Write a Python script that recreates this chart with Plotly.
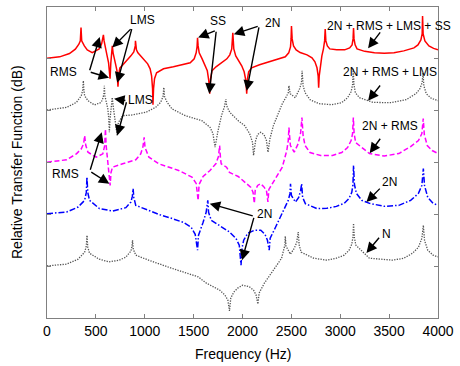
import plotly.graph_objects as go

# Measured transfer functions: (frequency in Hz, relative level in dB)
# Each trace carries its own vertical offset so the five cases stack.
full_model = [  # 2N + RMS + LMS + SS
    (0, -57.3), (130, -56), (230, -52.7), (290, -48.3), (326, -43.3), (341, -40), (348, -26.7),
    (355, -40), (382, -45), (412, -49), (463, -51.7), (534, -48), (559, -43), (572, -38), (577, -34),
    (584, -40), (595, -47), (615, -55), (630, -62), (640, -70), (645, -78), (653, -62), (660, -55),
    (665, -50), (668, -45), (676, -52), (686, -58), (701, -63), (716, -70), (723, -78), (726, -86),
    (736, -72), (746, -67), (777, -64), (817, -60), (858, -55), (888, -51), (898, -48), (903, -45),
    (905, -40), (908, -45), (915, -49), (930, -52), (970, -56), (1000, -59), (1030, -63), (1055, -68),
    (1070, -75), (1080, -88), (1084, -104), (1090, -88), (1100, -78), (1121, -72), (1192, -68),
    (1293, -66), (1395, -64), (1465, -62), (1506, -58), (1526, -52), (1535, -46), (1540, -37),
    (1546, -45), (1557, -52), (1587, -58), (1617, -64), (1640, -70), (1655, -80), (1665, -93),
    (1673, -78), (1688, -70), (1729, -66), (1789, -62), (1840, -58), (1870, -54), (1890, -48),
    (1901, -32), (1911, -48), (1931, -55), (1962, -60), (1992, -65), (2017, -71), (2035, -80),
    (2043, -93), (2051, -78), (2063, -71), (2093, -67), (2174, -64), (2276, -61), (2377, -58),
    (2438, -56), (2473, -52), (2491, -46), (2497, -38), (2501, -25), (2508, -38), (2522, -45),
    (2549, -49), (2590, -51.7), (2660, -54), (2711, -57), (2741, -61), (2762, -67), (2774, -75),
    (2779, -87), (2785, -75), (2797, -65), (2812, -55), (2828, -48), (2840, -40), (2846, -28),
    (2853, -40), (2868, -45), (2893, -48), (2964, -49), (3045, -49), (3096, -47), (3121, -44),
    (3131, -38), (3136, -27), (3141, -38), (3152, -44), (3172, -48), (3250, -50.5), (3350, -52),
    (3450, -52.5), (3550, -52), (3650, -50), (3754, -47), (3795, -44), (3825, -39), (3838, -33),
    (3842, -15), (3848, -33), (3866, -40), (3907, -45), (3955, -47.5), (4000, -49),
]

no_ss = [  # 2N + RMS + LMS
    (0, -109.3), (200, -106.7), (301, -101.7), (331, -98), (351, -95), (364, -90), (372, -80),
    (378, -90), (385, -95), (419, -100), (486, -104.3), (554, -101.7), (574, -97), (582, -93),
    (587, -85), (592, -95), (605, -102), (622, -108), (632, -118), (638, -131.7), (645, -118),
    (655, -108), (663, -102), (668, -96.7), (676, -105), (690, -115), (705, -124), (712, -130),
    (718, -135), (730, -122), (774, -115), (875, -114.3), (1010, -111.7), (1111, -106.7),
    (1162, -101.7), (1187, -96), (1195, -86.7), (1203, -96), (1229, -101.7), (1280, -108.3),
    (1415, -115), (1584, -120), (1668, -126.7), (1698, -133), (1719, -146.7), (1750, -130),
    (1785, -115), (1815, -106), (1825, -102), (1830, -98.3), (1837, -105), (1870, -111.7),
    (1955, -120), (2022, -125), (2073, -133), (2103, -142), (2113, -155), (2134, -140), (2154, -134),
    (2185, -131.7), (2220, -134), (2245, -140), (2261, -151.7), (2281, -138), (2316, -125),
    (2357, -115), (2407, -103), (2448, -96), (2468, -92), (2475, -85), (2488, -93), (2540, -97),
    (2584, -88), (2603, -82), (2610, -70), (2620, -85), (2640, -92), (2691, -99), (2782, -103),
    (2914, -104), (3015, -102), (3075, -97), (3111, -91), (3126, -84), (3133, -68), (3140, -84),
    (3155, -92), (3197, -97), (3336, -101.7), (3521, -102), (3673, -99), (3774, -93), (3815, -88),
    (3838, -82), (3847, -72), (3855, -85), (3880, -93), (3930, -97.5), (4000, -100),
]

n2_rms = [  # 2N + RMS
    (0, -161.7), (200, -159.3), (301, -153.3), (351, -148.3), (375, -143), (385, -135), (397, -145),
    (419, -151.7), (503, -156.7), (571, -153.3), (590, -145), (598, -128.3), (605, -145),
    (618, -158), (632, -168), (641, -176), (646, -185), (655, -172), (670, -166.7), (774, -163.3),
    (908, -159.3), (959, -153.3), (982, -146), (994, -136.7), (1003, -147), (1043, -156.7),
    (1144, -163.3), (1347, -170), (1483, -176.7), (1526, -183), (1546, -200), (1556, -184),
    (1597, -176), (1668, -170), (1729, -163), (1754, -156), (1766, -145), (1775, -158),
    (1782, -163.3), (1837, -166.7), (1867, -172), (1956, -176), (2040, -183), (2086, -187),
    (2108, -192), (2121, -203), (2130, -190), (2155, -185), (2185, -183.3), (2215, -186),
    (2245, -190), (2260, -201.5), (2270, -189), (2306, -183.3), (2407, -166.7), (2453, -150),
    (2468, -140), (2475, -127), (2490, -145), (2529, -151.7), (2570, -143), (2595, -132),
    (2608, -117), (2620, -135), (2640, -145), (2691, -152), (2800, -155), (2920, -155),
    (3015, -152), (3075, -147), (3111, -140), (3126, -133), (3134, -117), (3142, -133),
    (3158, -142), (3298, -153), (3450, -155.5), (3600, -153), (3720, -146), (3800, -140),
    (3835, -133), (3849, -118), (3860, -134), (3890, -145), (3940, -150), (4000, -153),
]

n2_only = [  # 2N
    (0, -213.3), (200, -211.7), (318, -206.7), (385, -200), (402, -192), (409, -176.7), (417, -192),
    (435, -200), (537, -208.3), (672, -210.7), (807, -207.3), (858, -201.7), (873, -196),
    (881, -188.3), (888, -197), (908, -205), (1040, -210), (1141, -214), (1273, -218), (1394, -222),
    (1475, -227), (1516, -234), (1540, -250), (1550, -235), (1597, -222), (1628, -212), (1645, -200),
    (1653, -212), (1681, -220), (1766, -225), (1867, -231.7), (1934, -238.3), (1967, -245),
    (1985, -265), (1995, -248), (2012, -240), (2053, -233), (2121, -230), (2187, -230), (2230, -234),
    (2255, -240), (2273, -250), (2283, -238), (2339, -226.7), (2424, -210), (2468, -200),
    (2486, -193), (2491, -183.3), (2500, -195), (2542, -201.7), (2575, -197), (2595, -190),
    (2605, -183.3), (2615, -197), (2643, -203.3), (2762, -208.3), (2863, -208), (2960, -206),
    (3040, -203), (3090, -198), (3118, -192), (3130, -184), (3136, -165), (3145, -184), (3165, -193),
    (3220, -200), (3300, -203), (3450, -206), (3600, -205), (3720, -200), (3800, -193), (3835, -185),
    (3850, -168), (3862, -185), (3895, -197), (3950, -203), (4000, -205),
]

n_only = [  # N
    (0, -265.7), (200, -264), (318, -259), (385, -252), (402, -246), (409, -235), (417, -247),
    (435, -253), (534, -259), (635, -261.7), (737, -260), (807, -257), (858, -251), (868, -247),
    (875, -240), (883, -249), (908, -255), (1040, -260), (1273, -268), (1546, -276.7), (1630, -283),
    (1766, -290), (1820, -295), (1850, -300), (1867, -311), (1880, -298), (1911, -292), (1951, -288),
    (2002, -285), (2070, -286.7), (2113, -290), (2139, -295), (2157, -304), (2170, -293),
    (2222, -283.3), (2276, -275), (2339, -266.7), (2400, -258), (2425, -250), (2433, -245),
    (2438, -236), (2445, -246), (2490, -254), (2530, -248), (2555, -242), (2570, -231.7),
    (2580, -245), (2600, -252), (2728, -258), (2863, -260), (2960, -258), (3040, -255), (3090, -250),
    (3118, -244), (3130, -237), (3136, -223), (3144, -237), (3160, -245), (3298, -258), (3538, -260),
    (3650, -258), (3740, -253), (3800, -247), (3835, -238), (3850, -225), (3862, -240), (3895, -250),
    (3950, -255), (4000, -256.7),
]

x_ticks = [0, 500, 1000, 1500, 2000, 2500, 3000, 3500, 4000]

# Case labels: (text, frequency, level)
case_labels = [
    ("LMS", 979, -19), ("RMS", 169, -71), ("SS", 1750, -20), ("2N", 2307, -21.7),
    ("2N + RMS + LMS + SS", 3501, -25), ("2N + RMS + LMS", 3508, -71), ("2N + RMS", 3511, -125),
    ("2N", 3505, -181.7), ("N", 3471, -233.3), ("LMS", 956, -99.3), ("RMS", 185, -174),
    ("2N", 2222, -213.3),
]

# Pointer arrows: (tail frequency, tail level, head frequency, head level)
pointers = [
    (871, -26.7, 668, -46.7), (871, -26.7, 719, -82),
    (432, -71, 539, -36), (432, -71, 635, -77),
    (1732, -29.3, 1546, -36.7), (1732, -29.3, 1660, -93),
    (2171, -25, 1911, -33.3), (2171, -25, 2043, -90),
    (3420, -30, 3285, -47.5), (3420, -83.3, 3285, -100), (3420, -136.7, 3301, -152.7),
    (3420, -186.7, 3268, -201.7), (3410, -236, 3268, -252.7),
    (817, -100, 686, -98), (817, -100, 719, -135),
    (438, -170.7, 560, -131.7), (438, -170.7, 638, -183.3),
    (2120, -216, 1665, -203.3), (2120, -216, 1995, -260),
]

styles = [
    (full_model, dict(color="#ff0000", width=1.5)),
    (no_ss, dict(color="#555555", width=1.3, dash="1.3px,1.3px")),
    (n2_rms, dict(color="#ff00ff", width=1.5, dash="5px,2.5px")),
    (n2_only, dict(color="#0000ff", width=1.5, dash="6px,2px,1.5px,2px")),
    (n_only, dict(color="#555555", width=1.3, dash="1.3px,1.3px")),
]

fig = go.Figure()
for pts, line in styles:
    fig.add_trace(go.Scatter(
        x=[p[0] for p in pts], y=[p[1] for p in pts],
        mode="lines", line=line, showlegend=False, hoverinfo="skip",
    ))

font = "Liberation Sans, Arial, sans-serif"
annotations = []
for text, fx, lv in case_labels:
    annotations.append(dict(x=fx, y=lv, xref="x", yref="y", text=text, showarrow=False,
                            font=dict(family=font, size=12, color="black")))
for tx, ty, hx, hy in pointers:
    annotations.append(dict(x=hx, y=hy, ax=tx, ay=ty, xref="x", yref="y", axref="x", ayref="y",
                            text="", showarrow=True, arrowhead=2, arrowsize=1.5,
                            arrowwidth=1.4, arrowcolor="black", standoff=0, startstandoff=0))
annotations.append(dict(x=0.5, y=-0.115, xref="paper", yref="paper", text="Frequency (Hz)",
                        showarrow=False, yanchor="middle",
                        font=dict(family=font, size=14, color="black")))
annotations.append(dict(x=-0.078, y=0.5, xref="paper", yref="paper",
                        text="Relative Transfer Function (dB)", textangle=-90, showarrow=False,
                        xanchor="center", font=dict(family=font, size=14, color="black")))

axis_common = dict(showgrid=False, zeroline=False, showline=True, linecolor="#808080",
                   linewidth=1, mirror="ticks", ticks="inside", ticklen=4, tickcolor="#808080")

fig.update_layout(
    width=460, height=366,
    margin=dict(l=47, r=18, t=6, b=48),
    paper_bgcolor="white", plot_bgcolor="white",
    xaxis=dict(range=[0, 4000], tickvals=x_ticks, ticktext=[str(t) for t in x_ticks],
               tickfont=dict(family=font, size=14, color="black"), **axis_common),
    yaxis=dict(range=[-318, -6], tick0=-318, dtick=52, showticklabels=False, **axis_common),
    annotations=annotations,
    font=dict(family=font),
)

fig.write_html("out.html")
